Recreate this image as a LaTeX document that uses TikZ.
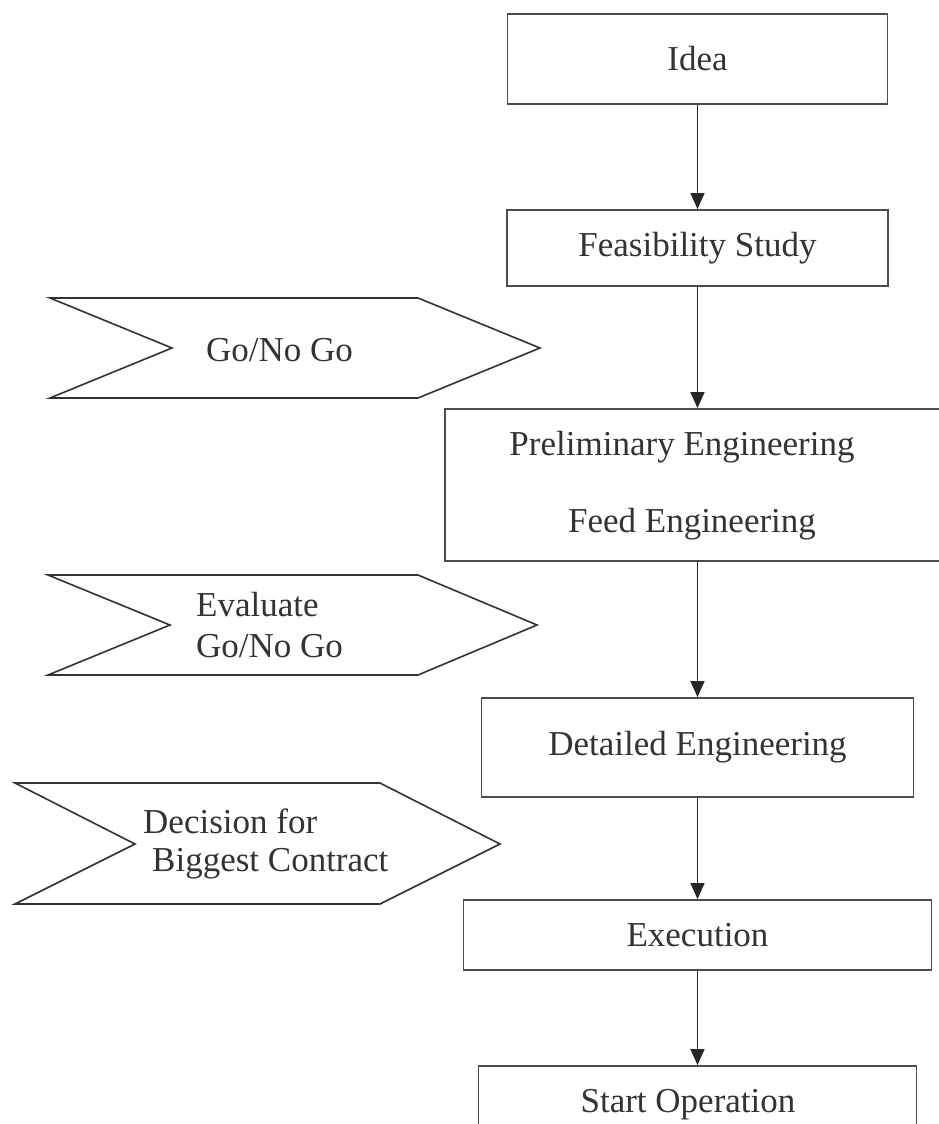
\documentclass[tikz,border=0pt]{standalone}
\usepackage{fontspec}
\setmainfont{Liberation Serif}
\usetikzlibrary{arrows.meta}
\begin{document}
\begin{tikzpicture}[x=1pt,y=-1pt,
  box/.style={draw=black!70, line width=1.8pt, rectangle, inner sep=0pt,
    font=\fontsize{35}{40}\selectfont, text=black!80},
  txt/.style={font=\fontsize{35}{40}\selectfont, text=black!80, inner sep=0pt},
  chev/.style={draw=black!80, line width=1.6pt, line join=miter},
  arr/.style={draw=black!85, line width=1.4pt, -{Triangle[width=14pt,length=16pt]}}]
\useasboundingbox (0,0) rectangle (938,1124);

% boxes
\node[box, minimum width=380pt, minimum height=90pt] (idea) at (697.5,59) {Idea};
\node[box, minimum width=381pt, minimum height=76pt] (feas) at (697.5,248) {Feasibility Study};
\node[box, minimum width=505pt, minimum height=152pt] (prelim) at (697.5,485) {};
\node[txt, anchor=base] (prelimA) at (682,455) {Preliminary Engineering};
\node[txt, anchor=base] (prelimB) at (692,532) {Feed Engineering};
\node[box, minimum width=432pt, minimum height=99pt] (detail) at (697.5,747.5) {Detailed Engineering};
\node[box, minimum width=468pt, minimum height=70pt] (exec) at (697.5,935) {Execution};
\node[box, minimum width=438pt, minimum height=84pt] (start) at (697.5,1108) {};
\node[txt, anchor=base] (startt) at (688,1112) {Start Operation};

% arrows
\draw[arr] (idea) -- (feas);
\draw[arr] (feas) -- (prelim);
\draw[arr] (prelim) -- (detail);
\draw[arr] (detail) -- (exec);
\draw[arr] (exec) -- (start);

% chevrons
\draw[chev] (50,298) -- (418,298) -- (540,348) -- (418,398) -- (50,398) -- (172,348) -- cycle;
\node[txt, anchor=base west] (go1) at (206,361) {Go/No Go};

\draw[chev] (48,575) -- (418,575) -- (537,625) -- (418,675) -- (48,675) -- (170,625) -- cycle;
\node[txt, anchor=base west] (eval) at (196,616) {Evaluate};
\node[txt, anchor=base west] (go2) at (196,657) {Go/No Go};

\draw[chev] (15,783) -- (380,783) -- (500,844) -- (380,904) -- (15,904) -- (135,844) -- cycle;
\node[txt, anchor=base west] (dec) at (143,833) {Decision for};
\node[txt, anchor=base west] (big) at (152,871) {Biggest Contract};
\end{tikzpicture}
\end{document}
